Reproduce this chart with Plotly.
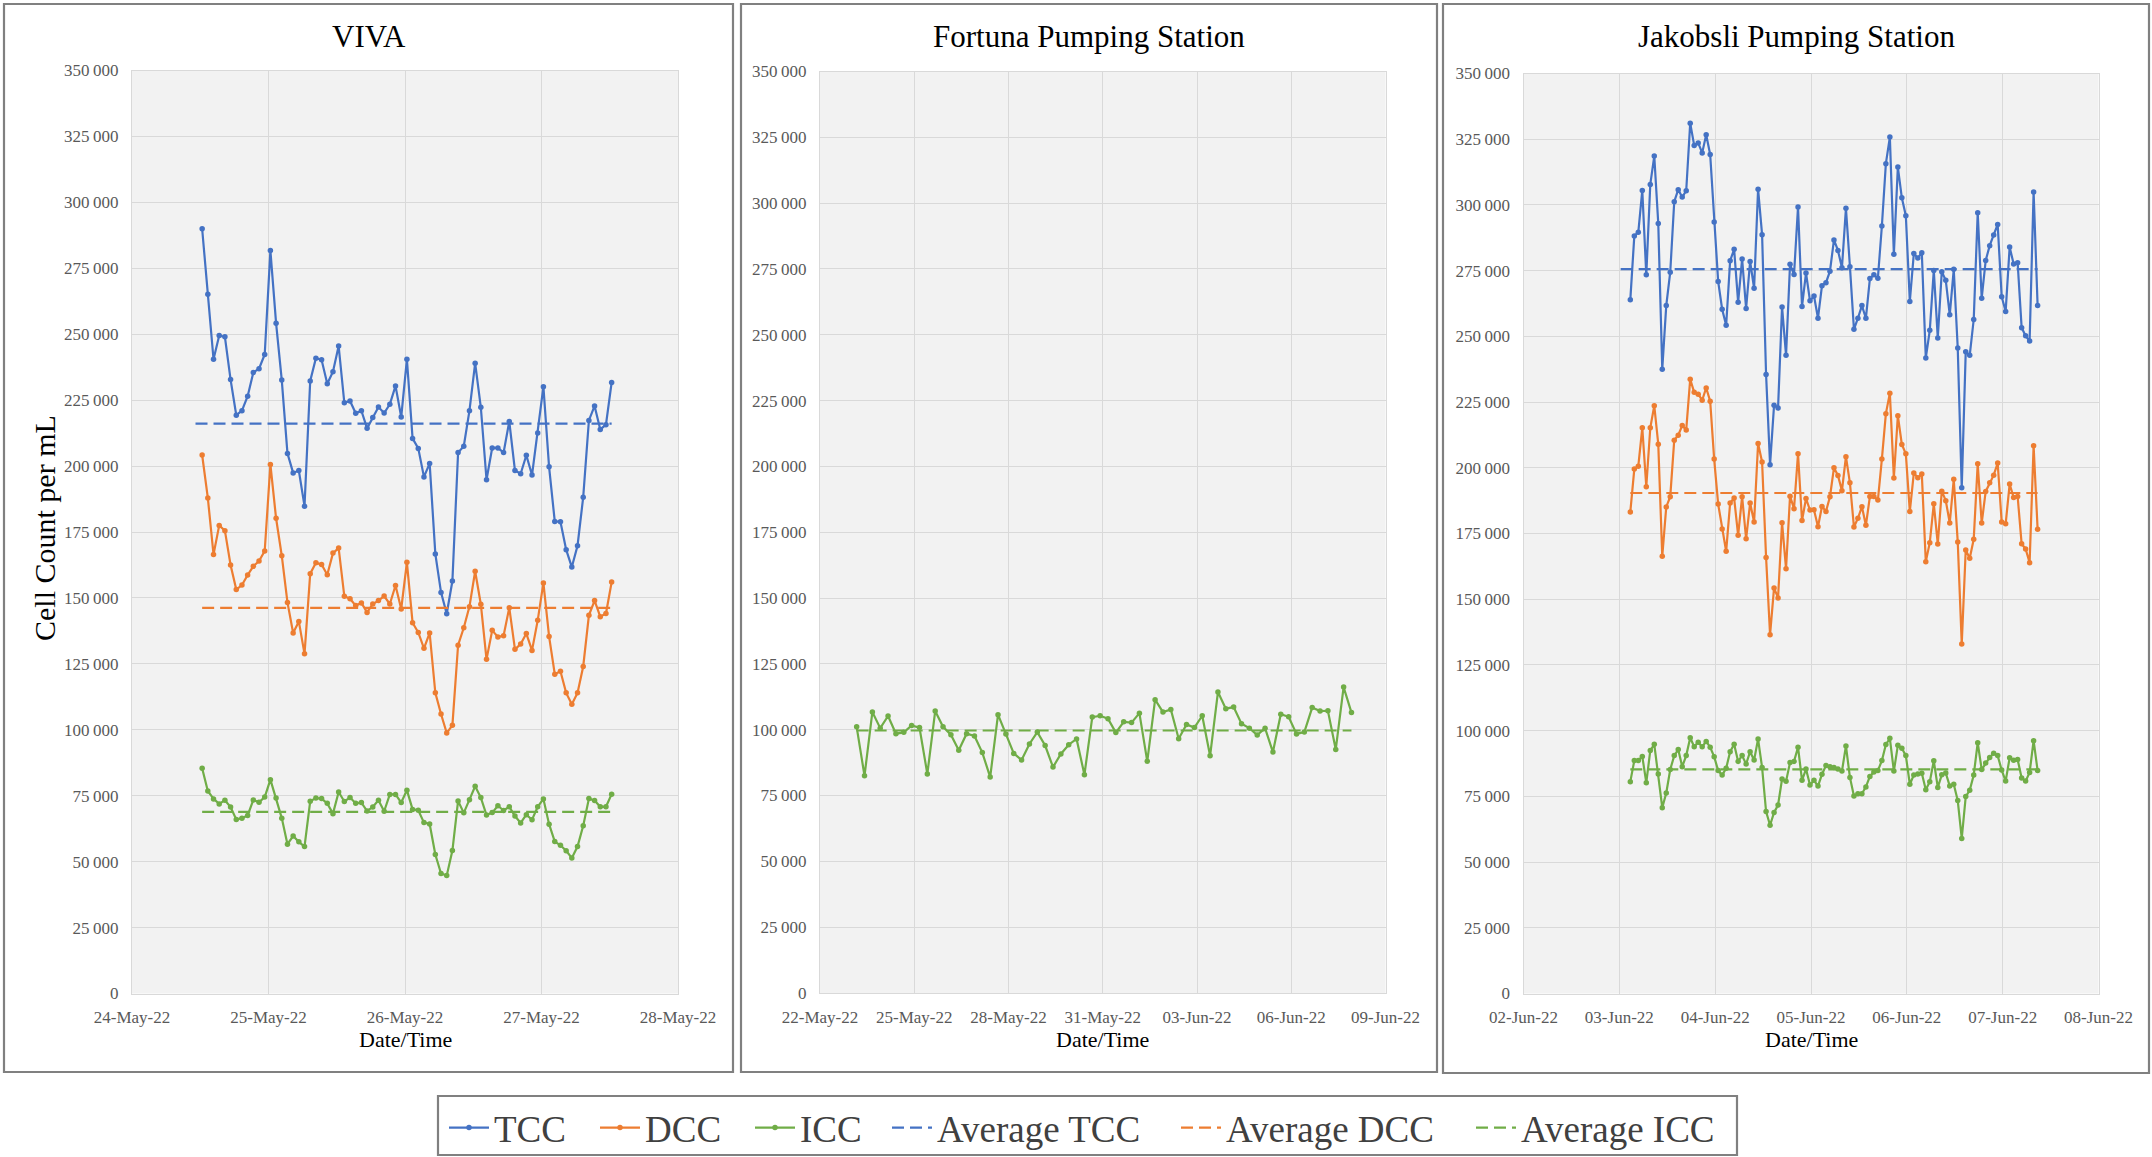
import pandas as pd
import plotly.graph_objects as go

# ---------------- data ----------------
# VIVA: hourly samples, 24-May-22 12:20 onward
viva_times = pd.date_range("2022-05-24 12:20", periods=73, freq="h")
viva_tcc = [290000, 265200, 240500, 249500, 249000, 232800, 219300, 221000, 226500, 235500,
            236900, 242300, 281700, 254200, 232600, 204800, 197400, 198300, 184800, 232300,
            240900, 240300, 231200, 235800, 245500, 224000, 224700, 220000, 221000, 214300,
            218400, 222400, 220100, 223400, 230400, 218600, 240500, 210500, 206700, 195900,
            201000, 166700, 152100, 144000, 156400, 205100, 207500, 221000, 239000, 222300,
            194800, 206900, 206900, 205100, 216900, 198300, 197100, 204100, 196600, 212500,
            230100, 199700, 179000, 178900, 168300, 161700, 169800, 188200, 217300, 222800,
            213900, 215700, 231700]
viva_dcc = [204200, 187900, 166500, 177500, 175500, 162500, 153200, 154900, 158700, 162000,
            164000, 167800, 200600, 180200, 166000, 148300, 136700, 141100, 128800, 159200,
            163300, 162700, 158800, 167000, 168900, 150600, 149700, 147100, 148100, 144500,
            147700, 149000, 150700, 147700, 154700, 145800, 163500, 140600, 136900, 130900,
            136700, 114000, 106000, 98800, 101700, 132100, 138700, 146700, 160100, 147600,
            126700, 137700, 135200, 135700, 146300, 130500, 132500, 136500, 130100, 141500,
            155700, 135400, 121100, 122200, 114000, 109700, 114000, 124000, 143400, 149000,
            142900, 144100, 156000]
viva_icc = [85400, 76800, 73800, 71900, 73300, 70700, 66000, 66500, 67500, 73400,
            72500, 74500, 81100, 74100, 66500, 56600, 59700, 57500, 55700, 72900,
            74100, 73900, 72100, 68200, 76400, 72800, 74300, 72100, 72400, 69200,
            70700, 73300, 69100, 75500, 75500, 72400, 77100, 69800, 69500, 64800,
            64300, 52700, 45500, 44700, 54200, 73000, 68500, 73500, 78600, 74300,
            67700, 68600, 71200, 69400, 70800, 67300, 64700, 67800, 65900, 70800,
            73800, 64200, 57600, 56200, 54100, 51400, 55700, 63600, 73900, 73200,
            70800, 70800, 75600]
viva_avg = {"TCC": 216100, "DCC": 146200, "ICC": 68900}
viva_avg_span = {"TCC": ["2022-05-24 11:10", "2022-05-27 12:20"],
                 "DCC": ["2022-05-24 12:20", "2022-05-27 12:20"],
                 "ICC": ["2022-05-24 12:20", "2022-05-27 12:20"]}

# Fortuna Pumping Station: 6-hourly samples, ICC only
fortuna_times = pd.date_range("2022-05-23 04:00", periods=64, freq="6h")
fortuna_icc = [101100, 82500, 106700, 100600, 105200, 98500, 99000, 101600, 100800, 83200,
               107100, 101100, 98100, 92200, 98500, 97600, 91300, 82000, 105700, 98400,
               91000, 88500, 94600, 99100, 94000, 85800, 90800, 94300, 96500, 82900,
               104800, 105300, 104200, 98900, 103000, 102700, 106300, 88000, 111400, 106700,
               107700, 96600, 102000, 100800, 105300, 90100, 114300, 108000, 108600, 102300,
               100600, 98000, 100600, 91500, 105900, 104900, 98400, 99100, 108400, 107100,
               107200, 92500, 116200, 106500]
fortuna_avg_icc = 99700
fortuna_avg_span = ["2022-05-23 04:00", "2022-06-07 22:00"]

# Jakobsli Pumping Station: hourly samples, 03-Jun-22 02:45 onward
jak_times = pd.date_range("2022-06-03 02:45", periods=103, freq="h")
jak_tcc = [263900, 288200, 289600, 305500, 273400, 307800, 318600, 292900, 237500, 261700,
           274400, 301200, 305800, 303000, 305400, 331100, 322600, 323600, 319800, 326700,
           319200, 293500, 270900, 260300, 254200, 278800, 283100, 263000, 279400, 260600,
           278500, 268300, 306000, 288700, 235500, 201200, 223800, 222700, 261200, 242800,
           277400, 273500, 299200, 261400, 274100, 263500, 265400, 256900, 269300, 270400,
           274800, 286700, 282700, 276100, 298700, 276500, 252700, 256900, 261700, 256900,
           272000, 273400, 272100, 292000, 315700, 325800, 281200, 314400, 302700, 295900,
           263300, 281500, 279800, 281800, 241800, 252300, 275100, 249400, 274600, 271300,
           258200, 275500, 245600, 192400, 244100, 242800, 256400, 297000, 264500, 278900,
           284500, 288600, 292600, 265100, 259500, 284000, 277500, 278000, 253300, 250200,
           248200, 304900, 261700]
jak_dcc = [183200, 199500, 200600, 215200, 192800, 215200, 223600, 209000, 166300, 185100,
           189000, 210500, 212400, 216100, 214400, 233700, 228700, 228000, 225700, 230400,
           225300, 203300, 186200, 176700, 168200, 186600, 188500, 174300, 189000, 173000,
           186600, 179400, 209200, 202200, 165900, 136500, 154300, 150500, 179100, 161600,
           189200, 184400, 205300, 179900, 188300, 183900, 184000, 177600, 185300, 183400,
           189000, 200000, 197100, 191300, 204200, 194300, 177500, 180800, 185200, 178100,
           189100, 189100, 187700, 203300, 220600, 228400, 196100, 219800, 208900, 205300,
           183400, 198000, 196200, 197600, 164300, 171500, 186300, 171000, 191100, 187500,
           179000, 195600, 171800, 133000, 168700, 165600, 172800, 201500, 179000, 191000,
           194300, 197200, 201800, 179400, 178700, 193800, 188700, 189100, 171100, 169100,
           163900, 208400, 176600]
jak_icc = [80600, 88600, 88600, 90200, 80200, 92400, 94800, 83500, 70700, 76300,
           85200, 90500, 92800, 86300, 90500, 97300, 93900, 95600, 93900, 95900,
           93700, 90100, 84800, 83100, 85700, 92000, 94800, 88300, 90500, 87300,
           92000, 88800, 96800, 86000, 69200, 64000, 68900, 71700, 81600, 80700,
           87900, 88300, 93700, 81100, 85400, 79300, 81100, 78900, 83400, 86700,
           86300, 86000, 85400, 84600, 94200, 82200, 75100, 76000, 76000, 78600,
           82600, 84300, 84800, 88600, 94700, 97100, 84600, 94400, 93300, 90500,
           79600, 83100, 83500, 83800, 77500, 80600, 88500, 78400, 83200, 83900,
           78900, 79600, 73400, 59000, 74900, 77300, 83100, 95400, 85200, 87700,
           89800, 91400, 90500, 85000, 80800, 89700, 88700, 89000, 82000, 80800,
           84100, 96200, 84800]
jak_avg = {"TCC": 275600, "DCC": 190400, "ICC": 85300}
jak_avg_span = {"TCC": ["2022-06-03 00:20", "2022-06-07 08:45"],
                "DCC": ["2022-06-03 02:45", "2022-06-07 08:45"],
                "ICC": ["2022-06-03 02:45", "2022-06-07 08:45"]}

y_ticks = list(range(0, 350001, 25000))

# ---------------- styling ----------------
W, H = 2152, 1157
FONT = "Liberation Serif"
COLORS = {"TCC": "#4472C4", "DCC": "#ED7D31", "ICC": "#70AD47"}
GRID = "#D9D9D9"
TICK_COLOR = "#595959"
LW = 2.2
DASH = "12px,6px"

# legend entries: one small legend per entry, left edge of each symbol in pixels
legend_names = ["TCC", "DCC", "ICC", "Average TCC", "Average DCC", "Average ICC"]
legend_x_px = [444, 595, 750, 887, 1176, 1471]
legend_ids = ["legend", "legend2", "legend3", "legend4", "legend5", "legend6"]

fig = go.Figure()


def add_series(xref, times, values, name, show):
    fig.add_trace(go.Scatter(
        x=times, y=values, mode="lines+markers", name=name,
        line=dict(color=COLORS[name], width=LW),
        marker=dict(color=COLORS[name], size=5.5),
        xaxis=xref, yaxis=xref.replace("x", "y"),
        legend=legend_ids[legend_names.index(name)], showlegend=show,
    ))


def add_average(xref, span, value, name, show):
    label = "Average " + name
    fig.add_trace(go.Scatter(
        x=span, y=[value, value], mode="lines", name=label,
        line=dict(color=COLORS[name], width=LW, dash=DASH),
        xaxis=xref, yaxis=xref.replace("x", "y"),
        legend=legend_ids[legend_names.index(label)], showlegend=show,
    ))


# VIVA panel (carries the legend entries)
add_series("x", viva_times, viva_tcc, "TCC", True)
add_series("x", viva_times, viva_dcc, "DCC", True)
add_series("x", viva_times, viva_icc, "ICC", True)
for key in ["TCC", "DCC", "ICC"]:
    add_average("x", viva_avg_span[key], viva_avg[key], key, True)

# Fortuna panel
add_series("x2", fortuna_times, fortuna_icc, "ICC", False)
add_average("x2", fortuna_avg_span, fortuna_avg_icc, "ICC", False)

# Jakobsli panel
add_series("x3", jak_times, jak_tcc, "TCC", False)
add_series("x3", jak_times, jak_dcc, "DCC", False)
add_series("x3", jak_times, jak_icc, "ICC", False)
for key in ["TCC", "DCC", "ICC"]:
    add_average("x3", jak_avg_span[key], jak_avg[key], key, False)

# panel geometry in pixels: plot area (left, right, top, bottom) and outer box
plots = [(132, 678, 70.5, 993.5), (820, 1385.5, 71.5, 993), (1523.5, 2098.5, 73.5, 993.5)]
boxes = [(4, 733, 4, 1072), (741, 1437, 4, 1072), (1443, 2149, 4, 1073)]
titles = ["VIVA", "Fortuna Pumping Station", "Jakobsli Pumping Station"]
title_y = [36, 36, 37]
x_ranges = [["2022-05-24", "2022-05-28"], ["2022-05-22", "2022-06-09"], ["2022-06-02", "2022-06-08"]]
x_dticks = [86400000, 3 * 86400000, 86400000]

axis_common = dict(
    showgrid=True, gridcolor=GRID, gridwidth=1.3, zeroline=False,
    showline=True, linecolor=GRID, linewidth=1.3, mirror=True,
    ticks="", automargin=False,
    tickfont=dict(family=FONT, size=17, color=TICK_COLOR),
)

layout = dict(
    width=W, height=H,
    margin=dict(l=0, r=0, t=0, b=0, autoexpand=False),
    paper_bgcolor="white", plot_bgcolor="#F2F2F2",
    separators=".\u2009",
    font=dict(family=FONT, color="black"),
    showlegend=True,
)

for lid, px in zip(legend_ids, legend_x_px):
    layout[lid] = dict(
        orientation="h", x=px / W, xanchor="left", y=1 - 1128 / H, yanchor="middle",
        font=dict(family=FONT, size=37, color="#404040"),
        borderwidth=0, bgcolor="rgba(0,0,0,0)", itemwidth=40,
    )

annotations = []
shapes = []
for i, ((l, r, t, b), (bl, br, bt, bb)) in enumerate(zip(plots, boxes)):
    sfx = "" if i == 0 else str(i + 1)
    layout["xaxis" + sfx] = dict(
        axis_common, domain=[l / W, r / W], anchor="y" + sfx,
        type="date", range=x_ranges[i], tick0=x_ranges[i][0], dtick=x_dticks[i],
        tickformat="%d-%b-%y", ticklabelstandoff=8,
    )
    layout["yaxis" + sfx] = dict(
        axis_common, domain=[1 - b / H, 1 - t / H], anchor="x" + sfx,
        range=[0, 350000], tickvals=y_ticks, tickformat=",d", ticklabelstandoff=9,
    )
    shapes.append(dict(type="rect", xref="paper", yref="paper",
                       x0=bl / W, x1=br / W, y0=1 - bb / H, y1=1 - bt / H,
                       line=dict(color="#808080", width=2.2), layer="above"))
    annotations.append(dict(text=titles[i], xref="paper", yref="paper",
                            x=(bl + br) / 2 / W, y=1 - title_y[i] / H,
                            xanchor="center", yanchor="middle", showarrow=False,
                            font=dict(family=FONT, size=31, color="black")))
    annotations.append(dict(text="Date/Time", xref="paper", yref="paper",
                            x=(l + r) / 2 / W, y=1 - 1039 / H,
                            xanchor="center", yanchor="middle", showarrow=False,
                            font=dict(family=FONT, size=22, color="black")))

annotations.append(dict(text="Cell Count per mL", xref="paper", yref="paper",
                        x=44 / W, y=1 - 528 / H, textangle=-90,
                        xanchor="center", yanchor="middle", showarrow=False,
                        font=dict(family=FONT, size=30, color="black")))

# frame around the legend row
shapes.append(dict(type="rect", xref="paper", yref="paper",
                   x0=438 / W, x1=1737 / W, y0=1 - 1155 / H, y1=1 - 1096 / H,
                   line=dict(color="#808080", width=2.2)))

layout["annotations"] = annotations
layout["shapes"] = shapes
fig.update_layout(**layout)

fig.write_html("out.html")
